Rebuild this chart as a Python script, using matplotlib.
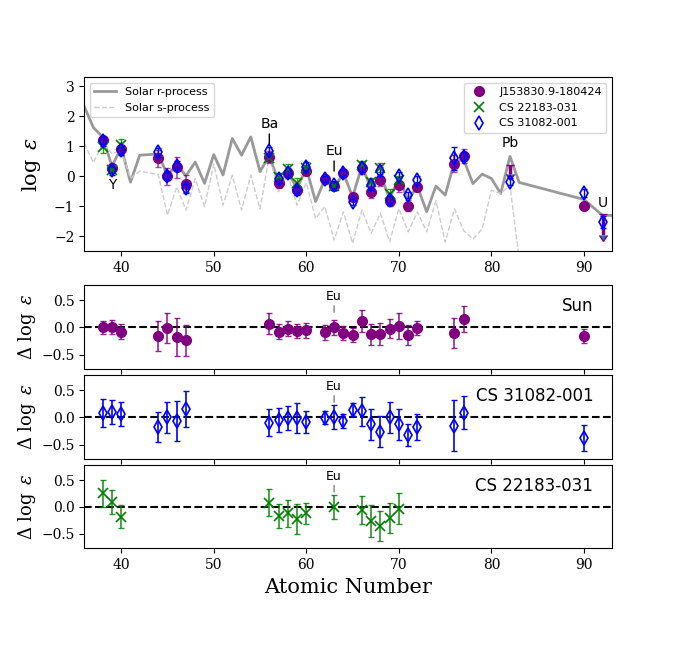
import numpy as np
import matplotlib
matplotlib.use("Agg")
import matplotlib.pyplot as plt

plt.rcParams['font.family'] = 'serif'
plt.rcParams['font.serif'] = ['DejaVu Serif']
plt.rcParams['mathtext.fontset'] = 'dejavuserif'

# solar r- and s-process patterns
r_z = [36, 37, 38, 39, 40, 41, 42, 44, 45, 46, 47, 48, 49, 50, 51, 52, 53, 54, 55, 56,
       57, 58, 59, 60, 61, 62, 63, 64, 65, 66, 67, 68, 69, 70, 71, 72, 73, 74, 75, 76,
       77, 78, 79, 80, 81, 82, 83, 90, 92, 93]
r_val = [2.33, 1.62, 1.31, 0.33, 0.96, -0.20, 0.70, 0.74, 0.03, 0.39, 0.01, 0.47, -0.24, 0.72, 0.04, 1.26, 0.70, 1.31, 0.15, 0.70,
         -0.22, 0.13, -0.41, 0.27, -0.85, -0.10, -0.38, 0.10, -0.69, 0.33, -0.41, 0.03, -0.74, -0.08, -0.80, -0.34, -1.19, -0.33, -0.63, 0.48,
         0.55, -0.25, 0.07, -0.08, -0.58, 0.66, -0.21, -0.78, -1.31, -1.31]
s_z = [36, 37, 38, 39, 40, 41, 42, 44, 45, 46, 47, 48, 49, 50, 51, 52, 53, 54, 55, 56,
       57, 58, 59, 60, 61, 62, 63, 64, 65, 66, 67, 68, 69, 70, 71, 72, 73, 74, 75, 76,
       77, 78, 79, 80, 81, 82, 83]
s_val = [1.09, 0.45, 1.10, 0.75, 0.85, -0.07, 0.17, 0.05, -1.30, -0.36, -1.13, -0.08, -1.02, 0.40, -0.97, 0.03, -1.13, 0.03, -1.10, 0.68,
         -0.52, 0.05, -0.97, -0.22, -1.41, -1.02, -2.13, -1.19, -2.24, -1.13, -1.91, -1.24, -2.19, -1.08, -1.86, -1.19, -1.86, -0.82, -2.20, -1.09,
         -1.82, -2.10, -1.76, -0.47, -0.58, -0.30, -2.80]

# J153830.9-180424
j_z = [38, 39, 40, 44, 45, 46, 47, 56, 57, 58, 59, 60, 62, 63, 64, 65, 66, 67, 68, 69, 70, 71, 72, 76, 77, 90]
j_val = [1.20, 0.26, 0.89, 0.59, 0.00, 0.30, -0.25, 0.65, -0.24, 0.09, -0.47, 0.17, -0.11, -0.32, 0.09, -0.70, 0.28, -0.52, -0.13, -0.83,
         -0.28, -0.99, -0.36, 0.42, 0.68, -0.98]
j_err = [0.12, 0.13, 0.14, 0.27, 0.28, 0.35, 0.29, 0.20, 0.14, 0.14, 0.13, 0.14, 0.14, 0.14, 0.13, 0.13, 0.20, 0.20, 0.20, 0.18,
         0.24, 0.19, 0.13, 0.27, 0.24, 0.13]
j_lim_z = [82, 92]
j_lim_val = [0.37, -1.26]
j_lim_err = [0.30, 0.72]
sun_res = [0.00, 0.00, -0.08, -0.16, -0.01, -0.18, -0.24, 0.07, -0.08, -0.02, -0.06, -0.05, -0.09, 0.00, -0.10, -0.14, 0.12, -0.13, -0.12, -0.02,
           0.02, -0.14, -0.01, -0.10, 0.16, -0.15]

# CS 31082-001
c1_z = [38, 39, 40, 44, 45, 46, 47, 56, 57, 58, 59, 60, 62, 63, 64, 65, 66, 67, 68, 69, 70, 71, 72, 76, 77, 82, 90, 92]
c1_val = [1.17, 0.20, 0.87, 0.79, 0.02, 0.34, -0.41, 0.83, -0.08, 0.12, -0.47, 0.31, -0.08, -0.30, 0.12, -0.86, 0.28, -0.30, 0.17, -0.80,
          0.00, -0.63, -0.13, 0.59, 0.64, -0.19, -0.56, -1.54]
c1_err = [0.15, 0.15, 0.15, 0.15, 0.15, 0.15, 0.15, 0.15, 0.15, 0.15, 0.15, 0.15, 0.10, 0.15, 0.10, 0.10, 0.15, 0.15, 0.15, 0.15,
          0.15, 0.10, 0.15, 0.40, 0.15, 0.12, 0.14, 0.20]
c1_res_z = [38, 39, 40, 44, 45, 46, 47, 56, 57, 58, 59, 60, 62, 63, 64, 65, 66, 67, 68, 69, 70, 71, 72, 76, 77, 90]
c1_res = [0.08, 0.10, 0.06, -0.18, 0.00, -0.07, 0.15, -0.10, -0.04, -0.01, -0.01, -0.09, -0.01, 0.00, -0.06, 0.14, 0.11, -0.13, -0.26, 0.00,
          -0.13, -0.32, -0.17, -0.15, 0.09, -0.38]
c1_res_err = [0.25, 0.22, 0.22, 0.28, 0.29, 0.37, 0.33, 0.25, 0.22, 0.22, 0.28, 0.20, 0.12, 0.22, 0.13, 0.12, 0.27, 0.29, 0.28, 0.28,
              0.29, 0.20, 0.24, 0.47, 0.31, 0.24]

# CS 22183-031
c2_z = [38, 39, 40, 56, 57, 58, 59, 60, 63, 66, 67, 68, 69, 70]
c2_val = [0.98, 0.22, 1.05, 0.62, -0.02, 0.24, -0.24, 0.28, -0.32, 0.37, -0.20, 0.28, -0.60, -0.13]
c2_err = [0.20, 0.12, 0.18, 0.12, 0.12, 0.15, 0.18, 0.10, 0.10, 0.12, 0.15, 0.15, 0.18, 0.15]
c2_res = [0.25, 0.09, -0.18, 0.08, -0.17, -0.12, -0.23, -0.12, 0.00, -0.05, -0.26, -0.35, -0.20, -0.03]
c2_res_err = [0.25, 0.22, 0.22, 0.25, 0.22, 0.25, 0.28, 0.20, 0.22, 0.26, 0.30, 0.28, 0.28, 0.29]

purple, green, blue = 'purple', 'green', 'blue'
sans = 'DejaVu Sans'

fig = plt.figure(figsize=(6.79, 6.47), dpi=100)
ax0 = fig.add_axes([0.124, 0.612, 0.777, 0.2685])
ax1 = fig.add_axes([0.124, 0.4292, 0.777, 0.1303])
ax2 = fig.add_axes([0.124, 0.2901, 0.777, 0.1303])
ax3 = fig.add_axes([0.124, 0.1525, 0.777, 0.1288])

# ---- top panel: abundances
ax0.plot(r_z, r_val, color='#999999', lw=2, label='Solar r-process', zorder=1)
ax0.plot(s_z, s_val, color='#cccccc', lw=1, ls='--', label='Solar s-process', zorder=1)

ax0.errorbar(j_z, j_val, yerr=j_err, fmt='none', ecolor=purple, alpha=0.7, capsize=2.5, lw=1.2, zorder=2)
ax0.errorbar(j_lim_z, j_lim_val, yerr=j_lim_err, uplims=True, fmt='none', ecolor=purple,
             capsize=3, lw=2.5, zorder=2)
ax0.errorbar(c2_z, c2_val, yerr=c2_err, fmt='none', ecolor=green, alpha=0.8, capsize=2.5, lw=1, zorder=3)
ax0.errorbar(c1_z, c1_val, yerr=c1_err, fmt='none', ecolor=blue, capsize=2.5, lw=1, zorder=4)

p1, = ax0.plot(j_z, j_val, 'o', color=purple, ms=7, ls='none', label='J153830.9-180424', zorder=3)
p2, = ax0.plot(c2_z, c2_val, 'x', color=green, ms=7, mew=1.2, ls='none', label='CS 22183-031', zorder=4)
p3, = ax0.plot(c1_z, c1_val, 'd', color=blue, mfc='none', ms=7, mew=1.2, ls='none', label='CS 31082-001', zorder=5)

ax0.set_xlim(36, 93)
ax0.set_ylim(-2.5, 3.3)
ax0.set_ylabel(r'$\log\ \varepsilon$', fontsize=15)
ax0.yaxis.set_label_coords(-0.078, 0.5)

leg1 = ax0.legend(handles=ax0.get_lines()[:2], loc='upper left', prop={'family': sans, 'size': 8})
ax0.add_artist(leg1)
ax0.legend(handles=[p1, p2, p3], loc='upper right', prop={'family': sans, 'size': 8})

tk = dict(arrowprops=dict(arrowstyle='-', color='k', lw=1, shrinkA=0, shrinkB=0),
          ha='center', va='bottom', family=sans, fontsize=10)
ax0.annotate('Ba', xy=(56, 1.04), xytext=(56, 1.5), **tk)
ax0.annotate('Eu', xy=(63, 0.17), xytext=(63, 0.6), **tk)
ax0.text(39, -0.3, 'Y', ha='center', va='center', family=sans, fontsize=10)
ax0.text(82, 1.1, 'Pb', ha='center', va='center', family=sans, fontsize=10)
ax0.text(92, -0.9, 'U', ha='center', va='center', family=sans, fontsize=10)

# ---- residual panels
panels = [
    (ax1, j_z, sun_res, j_err, purple, dict(marker='o', ms=7, color=purple), 'Sun'),
    (ax2, c1_res_z, c1_res, c1_res_err, blue, dict(marker='d', ms=7, color=blue, mfc='none', mew=1.2), 'CS 31082-001'),
    (ax3, c2_z, c2_res, c2_res_err, green, dict(marker='x', ms=7, color=green, mew=1.2), 'CS 22183-031'),
]
for ax, zz, res, err, col, mk, name in panels:
    ax.axhline(0, color='k', ls='--', lw=1.5, zorder=1)
    ax.errorbar(zz, res, yerr=err, fmt='none', ecolor=col, alpha=0.85 if col != blue else 1,
                capsize=2.5, lw=1.2, zorder=2)
    ax.plot(zz, res, ls='none', zorder=3, **mk)
    ax.set_xlim(36, 93)
    ax.set_ylim(-0.77, 0.78)
    ax.set_yticks([-0.5, 0.0, 0.5])
    ax.set_ylabel(r'$\Delta\ \log\ \varepsilon$', fontsize=13)
    ax.yaxis.set_label_coords(-0.088, 0.5)
    ax.text(0.965, 0.75, name, transform=ax.transAxes, ha='right', va='center', family=sans, fontsize=12)
    ax.annotate('Eu', xy=(63, 0.28), xytext=(63, 0.45), arrowprops=dict(arrowstyle='-', color='gray', lw=1, shrinkA=0, shrinkB=0),
                ha='center', va='bottom', family=sans, fontsize=9)

ax1.tick_params(labelbottom=False)
ax2.tick_params(labelbottom=False)
ax3.set_xlabel('Atomic Number', fontsize=15)

fig.savefig('out.png', dpi=100)
